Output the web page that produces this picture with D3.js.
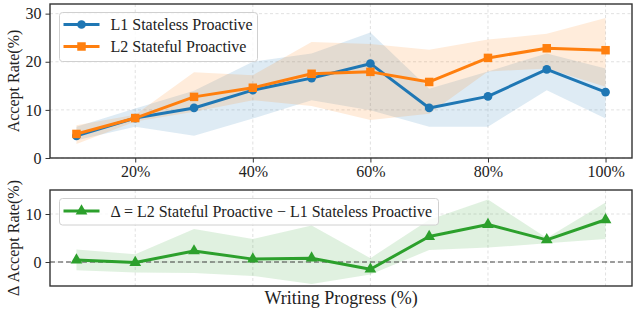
<!DOCTYPE html>
<html>
<head>
<meta charset="utf-8">
<script src="https://cdn.jsdelivr.net/npm/d3@7"></script>
<style>
  body { margin: 0; background: #fff; }
  svg text { font-family: "Liberation Serif", "Times New Roman", serif; fill: #222; }
</style>
</head>
<body>
<div id="chart"></div>
<script>
// writing progress (%) on x
const progress = [10, 20, 30, 40, 50, 60, 70, 80, 90, 100];
const progressTicks = [20, 40, 60, 80, 100];

// L1 stateless proactive
const l1Mean = [4.6, 8.3, 10.4, 14.1, 16.6, 19.6, 10.4, 12.8, 18.4, 13.7];
const l1Low  = [3.7, 6.5, 4.6, 8.2, 12.0, 9.9, 6.5, 6.5, 14.1, 8.2];
const l1High = [6.5, 10.3, 14.0, 20.0, 21.7, 26.1, 14.4, 18.0, 21.7, 18.6];

// L2 stateful proactive
const l2Mean = [5.0, 8.3, 12.7, 14.6, 17.5, 17.9, 15.8, 20.8, 22.8, 22.4];
const l2Low  = [2.9, 7.6, 9.6, 12.0, 10.8, 7.9, 9.2, 18.0, 18.6, 14.8];
const l2High = [6.8, 9.0, 17.8, 17.2, 24.1, 23.7, 22.5, 24.6, 25.8, 29.1];

// delta = L2 - L1
const deltaMean = [0.4, -0.1, 2.3, 0.6, 0.8, -1.5, 5.3, 7.8, 4.6, 8.8];
const deltaLow  = [-1.7, -2.2, -2.3, -2.9, -4.6, -2.6, 2.5, 3.0, 3.9, 4.8];
const deltaHigh = [2.6, 1.6, 6.9, 4.8, 7.6, 0.8, 8.8, 13.0, 5.0, 12.4];

const topTicks = [0, 10, 20, 30];
const bottomTicks = [0, 10];

const W = 633, H = 311;
const left = 50, right = 632;
const topPanel = {y0: 4, y1: 158};
const botPanel = {y0: 190, y1: 286};
const serif = "'Liberation Serif', 'Times New Roman', serif";

const blue = "#1f77b4", orange = "#ff7f0e", green = "#2ca02c";

const svg = d3.select("#chart").append("svg")
    .attr("width", W).attr("height", H);

const x = d3.scaleLinear().domain([5.5, 104.5]).range([left, right]);
const yTop = d3.scaleLinear().domain([0, 32]).range([topPanel.y1, topPanel.y0]);
const yBot = d3.scaleLinear().domain([-5, 15]).range([botPanel.y1, botPanel.y0]);

function panel(y, p, yticks, showX) {
    const g = svg.append("g");
    // grid
    g.selectAll(".vg").data(progressTicks).enter().append("line")
        .attr("x1", d => x(d)).attr("x2", d => x(d))
        .attr("y1", p.y0).attr("y2", p.y1)
        .attr("stroke", "#d9d9d9").attr("stroke-width", 0.8)
        .attr("stroke-dasharray", "3,2.5");
    g.selectAll(".hg").data(yticks).enter().append("line")
        .attr("x1", left).attr("x2", right)
        .attr("y1", d => y(d)).attr("y2", d => y(d))
        .attr("stroke", "#d9d9d9").attr("stroke-width", 0.8)
        .attr("stroke-dasharray", "3,2.5");
    // y axis
    const ya = g.append("g").attr("transform", `translate(${left},0)`)
        .call(d3.axisLeft(y).tickValues(yticks).tickSize(4.5).tickPadding(4).tickFormat(d3.format("d")));
    ya.attr("font-family", serif).attr("font-size", 16);
    ya.select(".domain").remove();
    ya.selectAll("line").attr("stroke", "#333").attr("stroke-width", 1);
    ya.selectAll("text").attr("fill", "#222");
    // x axis (only the top panel carries ticks and labels)
    if (showX) {
        const xa = g.append("g").attr("transform", `translate(0,${p.y1})`)
            .call(d3.axisBottom(x).tickValues(progressTicks).tickSize(4.5).tickPadding(3)
                .tickFormat(d => d + "%"));
        xa.attr("font-family", serif).attr("font-size", 16);
        xa.select(".domain").remove();
        xa.selectAll("line").attr("stroke", "#333").attr("stroke-width", 1);
        xa.selectAll("text").attr("fill", "#222");
    }
    return g;
}

function band(g, y, lo, hi, color) {
    const area = d3.area().x((d, i) => x(progress[i]))
        .y0((d, i) => y(lo[i])).y1((d, i) => y(hi[i]));
    g.append("path").datum(progress).attr("d", area)
        .attr("fill", color).attr("fill-opacity", 0.15).attr("stroke", "none");
}

function series(g, y, vals, color) {
    const line = d3.line().x((d, i) => x(progress[i])).y(d => y(d));
    g.append("path").datum(vals).attr("d", line)
        .attr("fill", "none").attr("stroke", color).attr("stroke-width", 3)
        .attr("stroke-linejoin", "round");
}

function markers(g, y, vals, color, type, size) {
    g.selectAll(null).data(vals).enter().append("path")
        .attr("transform", (d, i) => `translate(${x(progress[i])},${y(d)})`)
        .attr("d", d3.symbol().type(type).size(size))
        .attr("fill", color);
}

function frame(p) {
    svg.append("rect").attr("x", left).attr("y", p.y0)
        .attr("width", right - left).attr("height", p.y1 - p.y0)
        .attr("fill", "none").attr("stroke", "#333").attr("stroke-width", 1.4);
}

// ---- top panel
const gTop = panel(yTop, topPanel, topTicks, true);
band(gTop, yTop, l1Low, l1High, blue);
band(gTop, yTop, l2Low, l2High, orange);
series(gTop, yTop, l1Mean, blue);
markers(gTop, yTop, l1Mean, blue, d3.symbolCircle, 60);
series(gTop, yTop, l2Mean, orange);
markers(gTop, yTop, l2Mean, orange, d3.symbolSquare, 72);
frame(topPanel);

// ---- bottom panel
const gBot = panel(yBot, botPanel, bottomTicks, false);
band(gBot, yBot, deltaLow, deltaHigh, green);
gBot.append("line").attr("x1", left).attr("x2", right)
    .attr("y1", yBot(0)).attr("y2", yBot(0))
    .attr("stroke", "#444").attr("stroke-width", 1.2).attr("stroke-dasharray", "5,3");
series(gBot, yBot, deltaMean, green);
markers(gBot, yBot, deltaMean, green, d3.symbolTriangle, 60);
frame(botPanel);

// ---- legends
function legend(x0, y0, w, h, entries) {
    const g = svg.append("g");
    g.append("rect").attr("x", x0).attr("y", y0).attr("width", w).attr("height", h)
        .attr("rx", 3).attr("fill", "#fff").attr("fill-opacity", 0.8)
        .attr("stroke", "#d0d0d0").attr("stroke-width", 1);
    entries.forEach(e => {
        g.append("line").attr("x1", 63.5).attr("x2", 99.5).attr("y1", e.y).attr("y2", e.y)
            .attr("stroke", e.color).attr("stroke-width", 3);
        g.append("path").attr("transform", `translate(81.5,${e.y})`)
            .attr("d", d3.symbol().type(e.type).size(e.size)).attr("fill", e.color);
        g.append("text").attr("x", 110.5).attr("y", e.y).attr("dy", "0.35em")
            .attr("font-family", serif).attr("font-size", 16).text(e.label);
    });
}
legend(59.5, 12.5, 198, 49, [
    {y: 24.5, color: blue, type: d3.symbolCircle, size: 60, label: "L1 Stateless Proactive"},
    {y: 46.5, color: orange, type: d3.symbolSquare, size: 72, label: "L2 Stateful Proactive"}
]);
legend(59.5, 198.5, 379, 26.5, [
    {y: 211, color: green, type: d3.symbolTriangle, size: 60,
     label: "\u0394 = L2 Stateful Proactive \u2212 L1 Stateless Proactive"}
]);

// ---- axis titles
svg.append("text").attr("transform", `translate(19,${(topPanel.y0 + topPanel.y1) / 2}) rotate(-90)`)
    .attr("text-anchor", "middle").attr("font-family", serif).attr("font-size", 16).text("Accept Rate(%)");
svg.append("text").attr("transform", `translate(19,${(botPanel.y0 + botPanel.y1) / 2}) rotate(-90)`)
    .attr("text-anchor", "middle").attr("font-family", serif).attr("font-size", 16).text("\u0394 Accept Rate(%)");
svg.append("text").attr("x", (left + right) / 2).attr("y", 304)
    .attr("text-anchor", "middle").attr("font-family", serif).attr("font-size", 18).text("Writing Progress (%)");
</script>
</body>
</html>
